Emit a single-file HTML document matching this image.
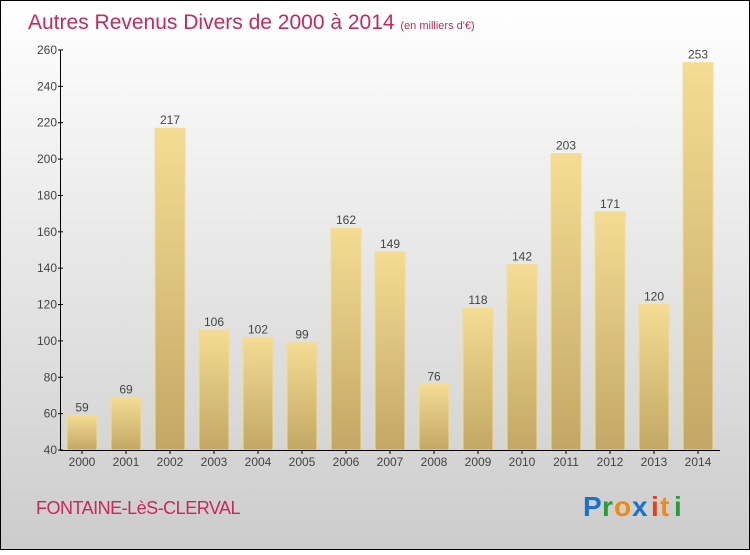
<!DOCTYPE html>
<html><head><meta charset="utf-8"><style>
body{margin:0}
svg text{font-family:"Liberation Sans",sans-serif}
</style></head><body>
<svg width="750" height="550" viewBox="0 0 750 550" xmlns="http://www.w3.org/2000/svg">
<defs>
<linearGradient id="bg" x1="0" y1="0" x2="0" y2="1"><stop offset="0" stop-color="#ffffff"/><stop offset="1" stop-color="#cccccc"/></linearGradient>
<linearGradient id="bar" x1="0" y1="0" x2="0" y2="1"><stop offset="0" stop-color="#f5dc94"/><stop offset="1" stop-color="#c2a864"/></linearGradient>
</defs>
<rect x="0.5" y="0.5" width="749" height="549" fill="url(#bg)" stroke="#000"/>
<text x="28" y="29" font-size="21" fill="#c8285a">Autres Revenus Divers de 2000 à 2014 <tspan font-size="11">(en milliers d'€)</tspan></text>
<g id="bars"></g>
<g id="axes"></g>
<text x="36" y="514" font-size="18" fill="#c8285a" letter-spacing="-0.5">FONTAINE-LèS-CLERVAL</text>
<g font-size="28" font-weight="bold">
<text x="583" y="516" fill="#1a73c9">P</text><text x="602" y="516" fill="#2a9d3a">r</text><text x="614" y="516" fill="#f08a12">o</text><text x="632" y="516" fill="#1a73c9">x</text><text x="651" y="516" fill="#e8401c">i</text><text x="660" y="516" fill="#f08a12">t</text><text x="674" y="516" fill="#2a9d3a">i</text>
</g>
</svg>
<script>
const years=["2000","2001","2002","2003","2004","2005","2006","2007","2008","2009","2010","2011","2012","2013","2014"];
const values=[59,69,217,106,102,99,162,149,76,118,142,203,171,120,253];
const yTicks=[40,60,80,100,120,140,160,180,200,220,240,260];
const NS="http://www.w3.org/2000/svg";
const y=v=>450-(v-40)*400/220;
const x=i=>82+i*44;
const bars=document.getElementById('bars'),axes=document.getElementById('axes');
function mk(t,a,p){const e=document.createElementNS(NS,t);for(const k in a)e.setAttribute(k,a[k]);p.appendChild(e);return e;}
values.forEach((v,i)=>{
 const r=mk('rect',{x:x(i)-15,y:y(v),width:30,height:450-y(v),fill:'url(#bar)',stroke:'#f3dc98','stroke-width':1},bars);
 
 
 const t=mk('text',{x:x(i),y:y(v)-4,'font-size':12,fill:'#444','text-anchor':'middle'},bars);
 t.textContent=v;
 
 
 const xl=mk('text',{x:x(i),y:466,'font-size':12,fill:'#444','text-anchor':'middle'},axes);
 xl.textContent=years[i];
 
 
 mk('line',{x1:x(i),x2:x(i),y1:450,y2:454,stroke:'#000'},axes);
});
yTicks.forEach(v=>{
 mk('line',{x1:58,x2:63,y1:y(v),y2:y(v),stroke:'#000'},axes);
 const t=mk('text',{x:57,y:y(v)+4,'font-size':12,fill:'#444','text-anchor':'end'},axes);
 t.textContent=v;
 
 
});
const ya=mk('line',{x1:60.5,x2:60.5,y1:50,y2:450,stroke:'#000'},axes);


const xa=mk('line',{x1:60,x2:720,y1:450.5,y2:450.5,stroke:'#000'},axes);


</script>
</body></html>
